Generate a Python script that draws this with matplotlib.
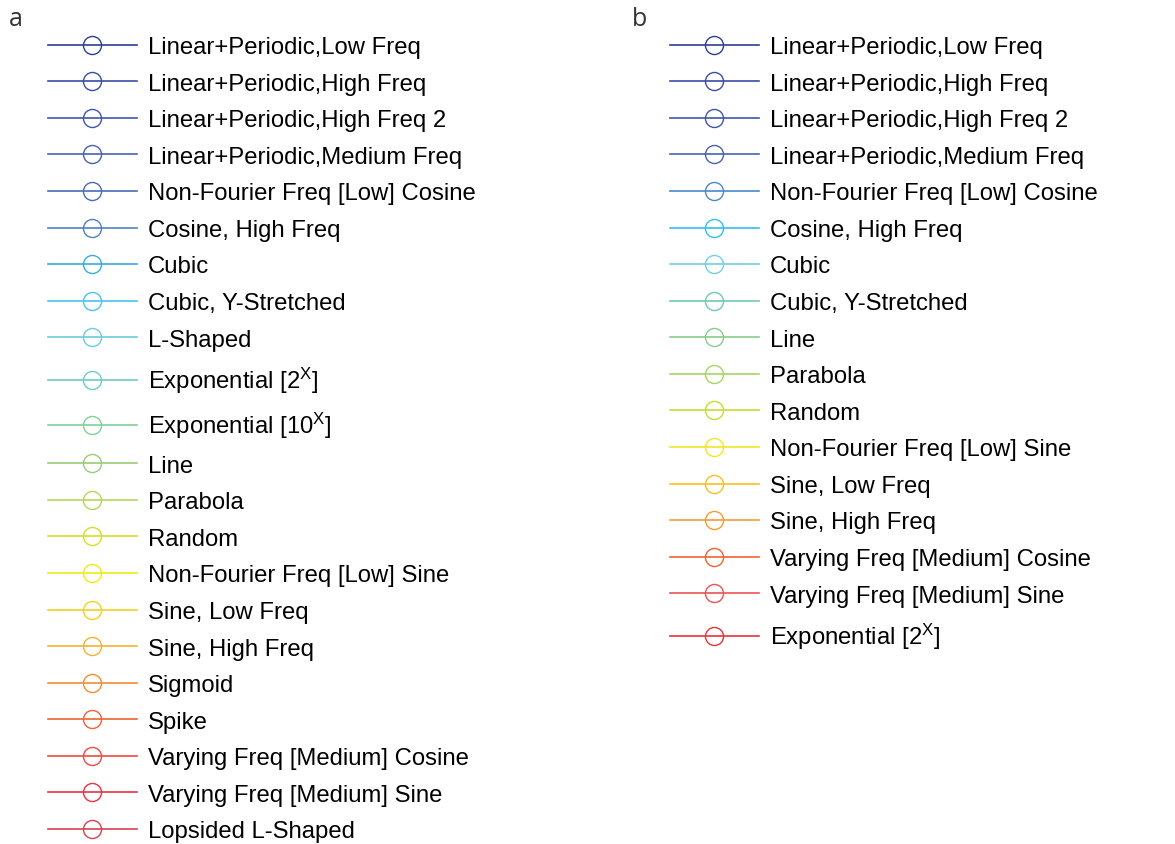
import matplotlib.pyplot as plt

plt.rcParams['font.family'] = ['Liberation Sans', 'DejaVu Sans']
plt.rcParams['mathtext.fontset'] = 'custom'
plt.rcParams['mathtext.rm'] = 'Liberation Sans'

# panel a: series names and colours
labels_a = [
    'Linear+Periodic,Low Freq', 'Linear+Periodic,High Freq',
    'Linear+Periodic,High Freq 2', 'Linear+Periodic,Medium Freq',
    'Non-Fourier Freq [Low] Cosine', 'Cosine, High Freq', 'Cubic',
    'Cubic, Y-Stretched', 'L-Shaped', 'Exponential [$\\mathregular{2^X}$]',
    'Exponential [$\\mathregular{10^X}$]', 'Line', 'Parabola', 'Random',
    'Non-Fourier Freq [Low] Sine', 'Sine, Low Freq', 'Sine, High Freq',
    'Sigmoid', 'Spike', 'Varying Freq [Medium] Cosine',
    'Varying Freq [Medium] Sine', 'Lopsided L-Shaped',
]
colors_a = [
    '#2c3e94', '#3a4ea6', '#3e56ab', '#4862b0', '#4a6bb5', '#5080c2',
    '#3aa9e2', '#48c4ee', '#6ccbe0', '#6ccbc2', '#7ed09a', '#98cc78',
    '#b4d65a', '#d6df2a', '#f0ea12', '#f5d022', '#f5b232', '#f58c32',
    '#f06230', '#f04a42', '#e83242', '#d84252',
]

# panel b: series names and colours
labels_b = [
    'Linear+Periodic,Low Freq', 'Linear+Periodic,High Freq',
    'Linear+Periodic,High Freq 2', 'Linear+Periodic,Medium Freq',
    'Non-Fourier Freq [Low] Cosine', 'Cosine, High Freq', 'Cubic',
    'Cubic, Y-Stretched', 'Line', 'Parabola', 'Random',
    'Non-Fourier Freq [Low] Sine', 'Sine, Low Freq', 'Sine, High Freq',
    'Varying Freq [Medium] Cosine', 'Varying Freq [Medium] Sine',
    'Exponential [$\\mathregular{2^X}$]',
]
colors_b = [
    '#2c3e94', '#3a4ea6', '#3e56ab', '#4862b0', '#4a88c8', '#32c0f0',
    '#72d0e2', '#72c8b2', '#88cc8a', '#a8d462', '#c8dc32', '#f0e822',
    '#f8c022', '#f89a32', '#f06232', '#f05252', '#e83238',
]

fig = plt.figure(figsize=(11.75, 8.45), dpi=100)


def legend_panel(labels, colors, x0, letter, lx):
    handles = []
    for lab, col in zip(labels, colors):
        h, = plt.plot([], [], color=col, lw=1.2, marker='o', ms=13,
                      mfc='none', mec=col, mew=1.0, label=lab)
        handles.append(h)
    fig.legend(handles=handles, loc='upper left',
               bbox_to_anchor=(x0 + 1 / 1175, 1 - 37 / 845), frameon=False,
               fontsize=17.2, handlelength=3.72, handletextpad=0.46,
               labelspacing=0.61, borderpad=0, borderaxespad=0,
               numpoints=1)
    fig.text(lx, 1 - 19 / 845, letter, fontsize=18, color='#333333',
             family='Open Sans', va='center', ha='left')


ax = fig.add_axes([0, 0, 1, 1])
ax.axis('off')
legend_panel(labels_a, colors_a, 47 / 1175, 'a', 9 / 1175)
legend_panel(labels_b, colors_b, 669 / 1175, 'b', 632 / 1175)

fig.savefig('out.png', dpi=100)
